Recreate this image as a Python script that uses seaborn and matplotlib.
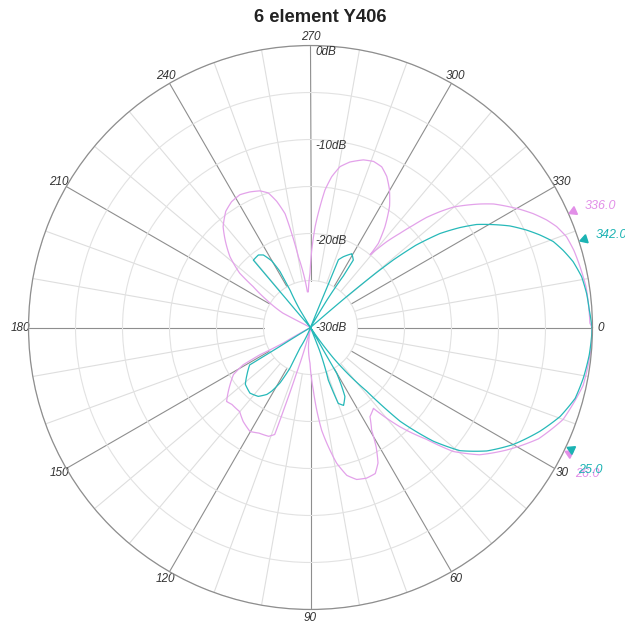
import numpy as np
import pandas as pd
import matplotlib.pyplot as plt
import seaborn as sns

sns.set_style('white')
plt.rcParams['font.family'] = ['Liberation Sans', 'DejaVu Sans']

# Antenna patterns: angle in degrees (0 at right, clockwise), level in dB
pink_deg = [0, 4, 12, 20, 26, 32, 37, 41, 44, 48,
            52.1, 56.3, 59.2, 61.2, 63.5, 66.1, 69.6, 73.1, 76.2, 79.1,
            81.5, 83.8, 85.7, 87.4, 90.8, 96, 100, 104, 107, 108,
            108.5, 111, 116, 120.2, 125.6, 130.1, 135.6, 138.6, 144.6, 148.6,
            151.0, 151.7, 150.3, 152, 180, 207, 207.5, 212.1, 215.5, 217.5,
            221.3, 225.7, 229.1, 233.9, 237.9, 242.0, 245.9, 249.7, 252.6, 255.0,
            257.4, 258.7, 260.3, 263.4, 265, 266.5, 269.5, 270.9, 272.6, 274.5,
            276.0, 278.0, 280.4, 283.4, 287.5, 290.8, 293.9, 296.8, 299.8, 303.1,
            306.5, 308.9, 309.4, 311.6, 313.5, 315.1, 316.5, 318.2, 319.9, 321.9,
            323.9, 326.0, 328.2, 330.6, 332.9, 335.5, 337.7, 340.5, 343.7, 347.4,
            351.6, 355.7, 359.1, 360]
pink_db = [-0.05, -0.05, -0.35, -1.4, -3.0, -5.4, -7.5, -9.9, -12.9, -15.8,
           -19.1, -18.6, -17.3, -15.5, -13.9, -13.0, -12.9, -13.1, -13.8, -15.3,
           -17.2, -19.0, -21.2, -23.3, -26.2, -27.9, -30, -30, -25, -21,
           -18.0, -17.6, -17.5, -17.2, -17.7, -18.3, -18.3, -18.1, -19.5, -20.4,
           -21.8, -23.9, -26.7, -30, -30, -30, -26.7, -24.5, -22.5, -20.5,
           -18.6, -17.0, -15.8, -14.7, -14.2, -14.0, -14.2, -14.5, -15.0, -16.1,
           -17.6, -19.8, -22.4, -24.9, -26.2, -26.2, -24.2, -21.8, -19.3, -17.1,
           -15.3, -13.8, -12.6, -11.9, -11.3, -11.1, -11.3, -12.0, -13.1, -14.6,
           -16.7, -18.5, -20.0, -17.8, -16.2, -14.6, -13.0, -11.5, -10.1, -8.9,
           -7.7, -6.5, -5.5, -4.4, -3.4, -2.4, -1.7, -1.1, -0.8, -0.6,
           -0.37, -0.32, -0.27, -0.05]

teal_deg = [0, 1.5, 5.6, 10.5, 15, 19.6, 24.3, 30, 35, 39.5,
            42.8, 46.3, 48.6, 53.2, 56, 60, 60.4, 60.2, 63.5, 67,
            69.9, 71.3, 68.5, 68, 112, 117.1, 116.8, 118.8, 121.3, 123.1,
            127.2, 132.7, 138.9, 143.5, 148.4, 148.3, 149, 229, 229.6, 229.7,
            234.3, 237.0, 239.8, 241.4, 241.3, 239, 239, 292, 292.4, 292.4,
            294.9, 299.3, 302.4, 302.5, 301, 300, 319, 319.5, 320.2, 320.8,
            322, 324, 326.2, 328.2, 330.6, 333.0, 335.7, 338.0, 340.5, 343,
            345.9, 349.4, 353, 356.4, 360]
teal_db = [-0.05, -0.07, -0.2, -0.48, -0.85, -1.8, -3.2, -5.1, -7.1, -9.4,
           -12.2, -16.2, -21, -26, -30, -30, -27.2, -24.4, -21.8, -21.0,
           -21.4, -24.1, -27.4, -30, -30, -27.6, -25.2, -23.3, -22.1, -21.5,
           -20.8, -20.5, -20.8, -21.6, -22.4, -26.2, -30, -30, -26, -20.6,
           -20.5, -20.8, -21.8, -23.2, -25.5, -27.8, -30, -30, -25, -22.2,
           -21.7, -21.0, -21.5, -23.5, -26.5, -30, -30, -25, -21, -18.6,
           -15.8, -13.0, -10.9, -9.2, -7.7, -6.2, -4.8, -3.7, -2.6, -1.9,
           -1.2, -0.65, -0.4, -0.28, -0.05]

# -3 dB beamwidth markers
pink_marks = [336.0, 26.0]
teal_marks = [342.0, 25.0]

angle_ticks = list(range(0, 360, 30))
db_rings = [-25, -20, -15, -10, -5, 0]
db_label_values = [0, -10, -20, -30]
db_labels = ['0dB', '-10dB', '-20dB', '-30dB']

PINK = '#e3a2ea'
TEAL = '#27b9b9'
PINK_TXT = '#e28fe8'
TEAL_TXT = '#1bb3b3'

df = pd.concat([
    pd.DataFrame({'theta': np.deg2rad(pink_deg), 'db': pink_db, 'trace': 'pink'}),
    pd.DataFrame({'theta': np.deg2rad(teal_deg), 'db': teal_db, 'trace': 'teal'}),
], ignore_index=True)

fig = plt.figure(figsize=(6.25, 6.28), dpi=100)
ax = fig.add_axes([0.0456, 0.0295, 0.9024, 0.898], projection='polar')
ax.set_theta_zero_location('E')
ax.set_theta_direction(-1)

# spokes: heavier every 30 deg, light every 10 deg, leaving a hole in the middle
for a in range(0, 360, 10):
    major = a % 30 == 0
    ax.plot([np.deg2rad(a)] * 2, [-25, 0], color='#8e8e8e' if major else '#dedede',
            lw=0.8, zorder=0.5)

n_before = len(ax.lines)
sns.lineplot(data=df, x='theta', y='db', hue='trace',
             palette={'pink': PINK, 'teal': TEAL}, sort=False, estimator=None,
             linewidth=0.9, legend=False, ax=ax)

# draw the traces as arcs between readings (polar rendering, not extra data)
for line in ax.lines[n_before:]:
    line.get_path()._interpolation_steps = 24
    line._transform_path()

ax.set_ylim(-30, 0)
ax.set_yticks(db_rings)
ax.set_yticklabels([])
ax.yaxis.grid(True, color='#e2e2e2', lw=0.8)
ax.set_thetagrids(angle_ticks, labels=[str(a) for a in angle_ticks],
                  fontstyle='italic', fontsize=8.5, color='#333333')
ax.xaxis.grid(False)
ax.tick_params(axis='x', pad=-1, length=0)
ax.spines['polar'].set_color('#8e8e8e')
ax.spines['polar'].set_linewidth(0.9)
ax.set_xlabel('')
ax.set_ylabel('')

# dB labels along the 270 spoke
for v, lab, dy in zip(db_label_values, db_labels, [-6, -6, -7, 0]):
    ax.annotate(lab, xy=(np.deg2rad(270), v), xytext=(5, dy),
                textcoords='offset pixels', ha='left', va='center',
                fontsize=8.5, fontstyle='italic', color='#333333')

# beamwidth markers with their angle labels
for marks, col, tcol in [(pink_marks, PINK, PINK_TXT), (teal_marks, TEAL, TEAL_TXT)]:
    for m in marks:
        rot = (180 - m) - 90
        ax.plot(np.deg2rad(m), 0.55, marker=(3, 0, rot), ms=7, color=tcol,
                mec=tcol, clip_on=False, zorder=5)
        upper = m > 180
        ax.text(np.deg2rad(m + (0 if upper else 3)), 1.9 if upper else 2.2,
                f'{m:.1f}', ha='left', va='center', fontsize=9,
                fontstyle='italic', color=tcol, clip_on=False)

fig.text(0.512, 1 - 17 / 628, '6 element Y406', ha='center', va='center',
         fontsize=13.3, fontweight='bold', color='#222222')

fig.savefig('out.png', dpi=100)
